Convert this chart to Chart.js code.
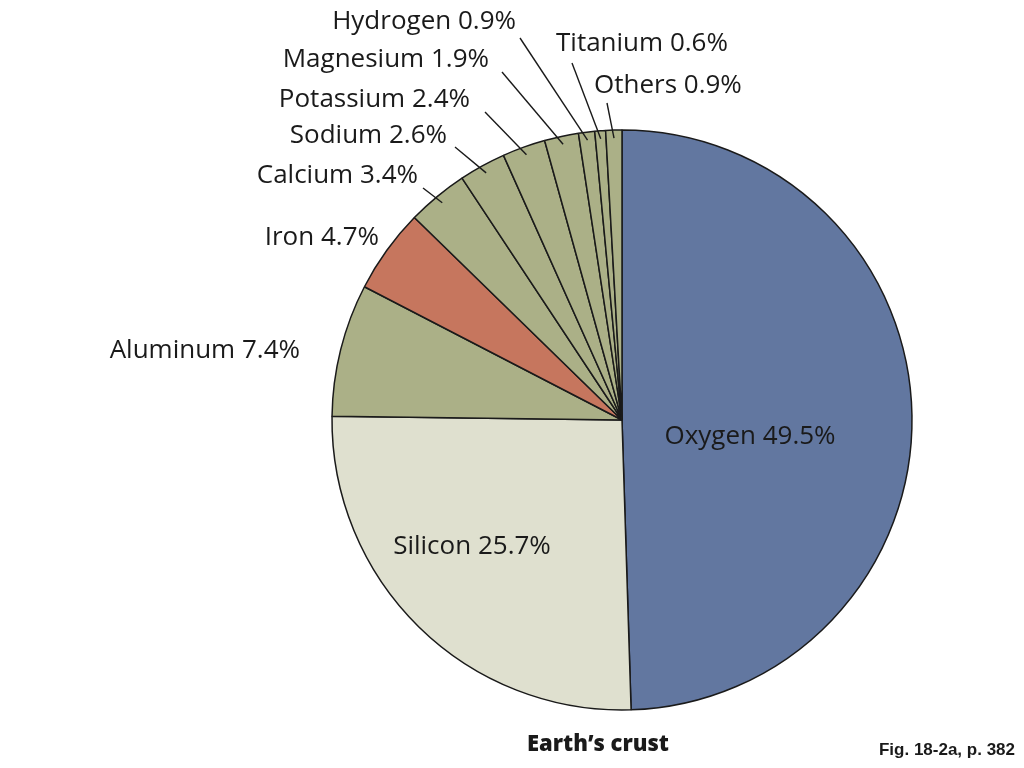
<!DOCTYPE html>
<html>
<head>
<meta charset="utf-8">
<script src="https://cdn.jsdelivr.net/npm/chart.js@4.4.1/dist/chart.umd.min.js"></script>
<style>
  html, body { margin: 0; padding: 0; background: #fff; }
  canvas { display: block; }
</style>
</head>
<body>
<canvas id="crustChart" width="1024" height="768"></canvas>
<script>
// Elementos da crosta terrestre (%)
const elements = ['Oxygen', 'Silicon', 'Aluminum', 'Iron', 'Calcium', 'Sodium', 'Potassium', 'Magnesium', 'Hydrogen', 'Titanium', 'Others'];
const percents = [49.5, 25.7, 7.4, 4.7, 3.4, 2.6, 2.4, 1.9, 0.9, 0.6, 0.9];
const sliceColors = ['#6277A0', '#DFE0CF', '#ABB087', '#C6765E', '#ABB087', '#ABB087', '#ABB087', '#ABB087', '#ABB087', '#ABB087', '#ABB087'];

// posição dos rótulos: [x, y, align, leaderX, leaderY] (leader null = sem linha)
const labelLayout = [
    [750, 437, 'center', null, null],
    [472, 547, 'center', null, null],
    [300, 351, 'right', null, null],
    [379, 238, 'right', null, null],
    [418, 176, 'right', 423, 188],
    [447, 136, 'right', 455, 147],
    [470, 100, 'right', 485, 112],
    [489, 60, 'right', 502, 72],
    [516, 22, 'right', 520, 38],
    [556, 44, 'left', 572, 63],
    [594, 86, 'left', 607, 103]
];

const labelFont = '400 26px "Open Sans", sans-serif';

const pieLabels = {
    id: 'pieLabels',
    afterDatasetsDraw(chart) {
        const ctx = chart.ctx;
        const arcs = chart.getDatasetMeta(0).data;
        ctx.save();
        ctx.fillStyle = '#1a1a1a';
        ctx.strokeStyle = '#1a1a1a';
        ctx.lineWidth = 1.4;
        ctx.font = labelFont;
        ctx.textBaseline = 'middle';
        arcs.forEach((arc, i) => {
            const [lx, ly, align, sx, sy] = labelLayout[i];
            ctx.textAlign = align;
            ctx.fillText(elements[i] + ' ' + percents[i].toFixed(1) + '%', lx, ly);
            if (sx !== null) {
                const mid = (arc.startAngle + arc.endAngle) / 2;
                const r = arc.outerRadius - 8;
                ctx.beginPath();
                ctx.moveTo(sx, sy);
                ctx.lineTo(arc.x + Math.cos(mid) * r, arc.y + Math.sin(mid) * r);
                ctx.stroke();
            }
        });
        // título e referência
        ctx.textAlign = 'center';
        ctx.font = '800 22px "Open Sans", sans-serif';
        ctx.fillText('Earth\u2019s crust', 598, 745);
        ctx.textAlign = 'right';
        ctx.font = 'bold 17px "Liberation Sans", Arial, sans-serif';
        ctx.fillText('Fig. 18-2a, p. 382', 1015, 750);
        ctx.restore();
    }
};

const crustCtx = document.getElementById('crustChart').getContext('2d');
new Chart(crustCtx, {
    type: 'pie',
    data: {
        labels: elements,
        datasets: [{
            data: percents,
            backgroundColor: sliceColors,
            borderColor: '#1a1a1a',
            borderWidth: 1.5,
            hoverOffset: 0
        }]
    },
    options: {
        responsive: false,
        animation: false,
        radius: 290,
        layout: {
            padding: { left: 220, right: 0, top: 72, bottom: 0 }
        },
        plugins: {
            legend: { display: false },
            tooltip: { enabled: false }
        }
    },
    plugins: [pieLabels]
});
</script>
</body>
</html>
